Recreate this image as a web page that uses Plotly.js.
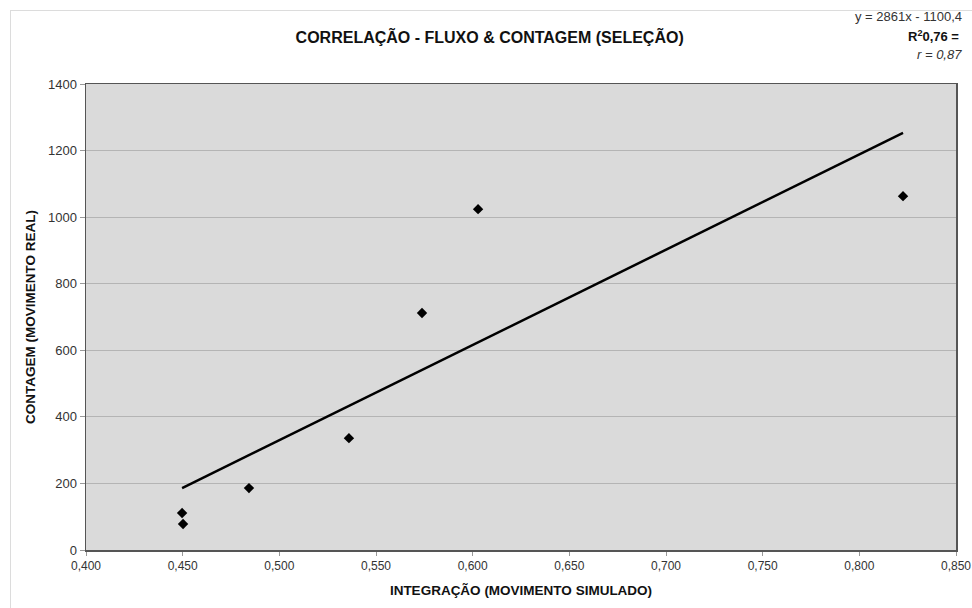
<!DOCTYPE html>
<html>
<head>
<meta charset="utf-8">
<script src="https://cdn.plot.ly/plotly-3.0.1.min.js"></script>
<style>
  html, body { margin: 0; padding: 0; background: #ffffff; }
  #wrap { position: relative; width: 972px; height: 608px; overflow: hidden; }
  #chart { position: absolute; left: 0; top: 0; width: 972px; height: 608px; }
  #frame { position: absolute; left: 10px; top: 10px; width: 980px; height: 620px;
           border-left: 1px solid #dcdcdc; border-top: 1px solid #dcdcdc; pointer-events: none; }
</style>
</head>
<body>
<div id="wrap"><div id="chart"></div><div id="frame"></div></div>
<script>
// Observed points
const integracao = [0.4497, 0.4502, 0.4843, 0.5360, 0.5738, 0.6028, 0.8226];
const contagem   = [111, 78, 186, 336, 712, 1024, 1063];

// Linear trend line (read endpoints)
const trendX = [0.4497, 0.8226];
const trendY = [186, 1253];

const titleText = 'CORRELAÇÃO - FLUXO &amp; CONTAGEM (SELEÇÃO)';
const xTitle = 'INTEGRAÇÃO (MOVIMENTO SIMULADO)';
const yTitle = 'CONTAGEM (MOVIMENTO REAL)';
const eqText = 'y = 2861x - 1100,4';
const r2Text = '<b>R<sup>2</sup>0,76 =</b>';
const rText = '<i>r = 0,87</i>';

const font = 'Liberation Sans, Arial, sans-serif';

const traces = [
  {
    x: trendX, y: trendY, mode: 'lines', type: 'scatter',
    line: { color: '#000000', width: 2.5 }, hoverinfo: 'skip', showlegend: false
  },
  {
    x: integracao, y: contagem, mode: 'markers', type: 'scatter',
    marker: { symbol: 'diamond', color: '#000000', size: 8 },
    showlegend: false
  }
];

const layout = {
  width: 972, height: 608,
  margin: { l: 86, r: 16, t: 84, b: 58 },
  paper_bgcolor: 'rgba(0,0,0,0)',
  plot_bgcolor: '#dadada',
  separators: ',.',
  font: { family: font, color: '#333333', size: 13 },
  title: {
    text: '<b>' + titleText + '</b>',
    font: { family: font, size: 16, color: '#111111' },
    x: 0.464, xanchor: 'center', y: 0.939, yanchor: 'middle', xref: 'paper'
  },
  xaxis: {
    range: [0.4, 0.85], tickvals: [0.40, 0.45, 0.50, 0.55, 0.60, 0.65, 0.70, 0.75, 0.80, 0.85],
    tickformat: '.3f', showgrid: false, zeroline: false,
    showline: true, linecolor: '#555555', linewidth: 1.5, mirror: true,
    ticks: 'outside', ticklen: 4, tickcolor: '#999999',
    tickfont: { family: font, size: 12, color: '#333333' },
    title: { text: '<b>' + xTitle + '</b>', font: { family: font, size: 13.5, color: '#111111' }, standoff: 13 }
  },
  yaxis: {
    range: [0, 1400], dtick: 200, tick0: 0,
    showgrid: true, gridcolor: '#b4b4b4', gridwidth: 1, zeroline: false,
    showline: true, linecolor: '#555555', linewidth: 1.5, mirror: true,
    ticks: 'outside', ticklen: 5, tickcolor: '#999999',
    tickfont: { family: font, size: 13, color: '#333333' },
    title: { text: '<b>' + yTitle + '</b>', font: { family: font, size: 13.5, color: '#111111' }, standoff: 9 }
  },
  annotations: [
    { text: eqText, xref: 'paper', yref: 'paper', x: 1.009, y: 1.144, xanchor: 'right', yanchor: 'middle',
      showarrow: false, font: { family: font, size: 13, color: '#333333' } },
    { text: r2Text, xref: 'paper', yref: 'paper', x: 1.006, y: 1.103, xanchor: 'right', yanchor: 'middle',
      showarrow: false, font: { family: font, size: 13, color: '#111111' } },
    { text: rText, xref: 'paper', yref: 'paper', x: 1.009, y: 1.064, xanchor: 'right', yanchor: 'middle',
      showarrow: false, font: { family: font, size: 13, color: '#333333' } }
  ]
};

Plotly.newPlot('chart', traces, layout, { displayModeBar: false, staticPlot: true });
</script>
</body>
</html>
